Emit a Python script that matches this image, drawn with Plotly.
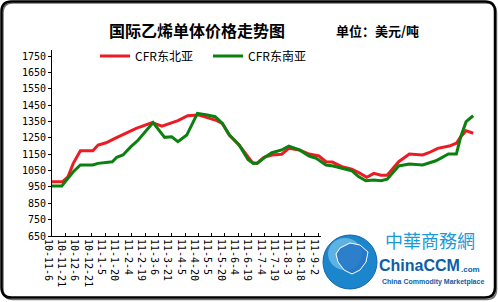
import plotly.graph_objects as go
import pandas as pd

# ---------------- data ----------------
ne_name = "CFR东北亚"
ne_dates = ["2010-11-06", "2010-11-18", "2010-11-24", "2010-11-30", "2010-12-08", "2010-12-22",
            "2010-12-28", "2011-01-06", "2011-01-16", "2011-01-27", "2011-02-09", "2011-02-27",
            "2011-03-10", "2011-03-28", "2011-04-08", "2011-04-20", "2011-04-30", "2011-05-11",
            "2011-05-17", "2011-05-25", "2011-06-05", "2011-06-20", "2011-06-25", "2011-07-03",
            "2011-07-12", "2011-07-23", "2011-07-31", "2011-08-12", "2011-08-23", "2011-09-03",
            "2011-09-11", "2011-09-18", "2011-09-29", "2011-10-10", "2011-10-18", "2011-10-27",
            "2011-11-04", "2011-11-12", "2011-11-19", "2011-11-27", "2011-12-02", "2011-12-14",
            "2011-12-29", "2012-01-05", "2012-01-15", "2012-01-28", "2012-02-05", "2012-02-10",
            "2012-02-16", "2012-02-24"]
ne_prices = [982, 982, 1012, 1094, 1171, 1171,
             1206, 1220, 1247, 1273, 1308, 1343,
             1322, 1355, 1385, 1390, 1375, 1355,
             1339, 1267, 1206, 1098, 1094, 1131,
             1145, 1150, 1186, 1176, 1151, 1139,
             1104, 1102, 1074, 1058, 1037, 1009,
             1033, 1021, 1021, 1074, 1104, 1151,
             1145, 1159, 1186, 1200, 1217, 1257,
             1294, 1278]

se_name = "CFR东南亚"
se_dates = ["2010-11-06", "2010-11-17", "2010-11-24", "2010-11-30", "2010-12-08", "2010-12-22",
            "2010-12-28", "2011-01-13", "2011-01-18", "2011-01-25", "2011-02-03", "2011-02-11",
            "2011-02-28", "2011-03-13", "2011-03-21", "2011-03-28", "2011-04-07", "2011-04-19",
            "2011-04-30", "2011-05-09", "2011-05-17", "2011-05-25", "2011-06-05", "2011-06-15",
            "2011-06-21", "2011-06-26", "2011-07-04", "2011-07-12", "2011-07-23", "2011-07-31",
            "2011-08-12", "2011-08-23", "2011-08-31", "2011-09-11", "2011-09-19", "2011-09-29",
            "2011-10-10", "2011-10-18", "2011-10-26", "2011-11-04", "2011-11-12", "2011-11-19",
            "2011-11-27", "2011-12-02", "2011-12-14", "2011-12-29", "2012-01-13", "2012-01-27",
            "2012-02-05", "2012-02-10", "2012-02-16", "2012-02-24"]
se_prices = [955, 955, 1003, 1043, 1084, 1084,
             1094, 1104, 1131, 1145, 1196, 1235,
             1343, 1253, 1257, 1227, 1267, 1400,
             1390, 1379, 1339, 1267, 1206, 1118,
             1094, 1096, 1131, 1159, 1176, 1200,
             1176, 1139, 1125, 1084, 1078, 1063,
             1049, 1012, 988, 992, 988, 997,
             1043, 1078, 1090, 1084, 1110, 1151,
             1151, 1257, 1349, 1385]

x_tick_labels = ["10-11-6", "10-11-21", "10-12-6", "10-12-21", "11-1-5", "11-1-20", "11-2-4",
                 "11-2-19", "11-3-6", "11-3-21", "11-4-5", "11-4-20", "11-5-5", "11-5-20",
                 "11-6-4", "11-6-19", "11-7-4", "11-7-19", "11-8-3", "11-8-18", "11-9-2",
                 "11-9-17", "11-10-2", "11-10-17", "11-11-1", "11-11-16", "11-12-1",
                 "11-12-16", "11-12-31", "12-1-15", "12-1-30", "12-2-14", "12-2-29"]
y_tick_values = [650, 750, 850, 950, 1050, 1150, 1250, 1350, 1450, 1550, 1650, 1750]

title_text = "国际乙烯单体价格走势图"
unit_text = "单位：美元/吨"

# ---------------- layout geometry (pixels) ----------------
FIG_W, FIG_H = 498, 302
L, T, R, B = 52, 50, 20, 66
W, H = FIG_W - L - R, FIG_H - T - B


def px(x):
    return (x - L) / W


def py(y):
    return (T + H - y) / H


x_tick_vals = [pd.to_datetime("20" + s, format="%Y-%m-%d") for s in x_tick_labels]

CJK = "Noto Sans CJK SC, Noto Sans, sans-serif"
TICKF = "DejaVu Sans Mono, monospace"

fig = go.Figure()
fig.add_trace(go.Scatter(x=pd.to_datetime(ne_dates), y=ne_prices, mode="lines", name=ne_name,
                         line=dict(color="#ec1c24", width=3)))
fig.add_trace(go.Scatter(x=pd.to_datetime(se_dates), y=se_prices, mode="lines", name=se_name,
                         line=dict(color="#0a800f", width=3)))

fig.update_layout(
    width=FIG_W, height=FIG_H,
    margin=dict(l=L, r=R, t=T, b=B, pad=0),
    paper_bgcolor="white", plot_bgcolor="white",
    showlegend=True,
    legend=dict(orientation="h", x=px(95), xanchor="left", y=py(56), yanchor="middle",
                font=dict(family=CJK, size=12, color="black"),
                bgcolor="rgba(0,0,0,0)", borderwidth=0,
                entrywidth=68, entrywidthmode="pixels", itemwidth=30),
    xaxis=dict(type="date", range=["2010-11-06", "2012-02-29 10:00"],
               tickmode="array", tickvals=x_tick_vals, ticktext=x_tick_labels,
               tickangle=90, ticks="inside", ticklen=3, tickcolor="black",
               showline=True, linecolor="black", linewidth=1,
               showgrid=False, zeroline=False,
               tickfont=dict(family=TICKF, size=10, color="black"),
               ticklabelshift=-4),
    yaxis=dict(range=[650, 1787], tickmode="array", tickvals=y_tick_values,
               ticks="outside", ticklen=3, tickcolor="black",
               showline=True, linecolor="black", linewidth=1,
               showgrid=False, zeroline=False,
               tickfont=dict(family=TICKF, size=10, color="black")),
)

# title and unit
fig.add_annotation(text="<b>" + title_text + "</b>", x=px(197), y=py(30), xref="paper", yref="paper",
                   showarrow=False, xanchor="center", yanchor="middle",
                   font=dict(family=CJK, size=16, color="black"))
fig.add_annotation(text="<b>" + unit_text + "</b>", x=px(377), y=py(30), xref="paper", yref="paper",
                   showarrow=False, xanchor="center", yanchor="middle",
                   font=dict(family=CJK, size=13, color="black"))


# outer rounded frame
def rrect(x0, y0, x1, y1, r):
    pts = [
        ("M", [(x0 + r, y0)]), ("L", [(x1 - r, y0)]), ("Q", [(x1, y0), (x1, y0 + r)]),
        ("L", [(x1, y1 - r)]), ("Q", [(x1, y1), (x1 - r, y1)]),
        ("L", [(x0 + r, y1)]), ("Q", [(x0, y1), (x0, y1 - r)]),
        ("L", [(x0, y0 + r)]), ("Q", [(x0, y0), (x0 + r, y0)]),
    ]
    s = ""
    for cmd, ps in pts:
        s += cmd + " " + " ".join(f"{px(a):.5f},{py(b):.5f}" for a, b in ps) + " "
    return s + "Z"


fig.add_shape(type="path", path=rrect(1.5, 1.5, 495, 297.5, 10), xref="paper", yref="paper",
              line=dict(color="black", width=2.5), fillcolor="rgba(0,0,0,0)", layer="above")
fig.add_shape(type="path", path=rrect(3, 3, 496.5, 299.5, 10), xref="paper", yref="paper",
              line=dict(color="rgba(0,0,0,0.55)", width=1.5), fillcolor="rgba(0,0,0,0)", layer="below")

# logo block (covers the later date labels as in the source)
fig.add_shape(type="rect", x0=px(321), x1=px(492), y0=py(293), y1=py(226), xref="paper", yref="paper",
              line=dict(width=0), fillcolor="white", layer="above")
fig.add_shape(type="circle", x0=px(323), x1=px(377), y0=py(289), y1=py(235), xref="paper", yref="paper",
              line=dict(color="#1565a8", width=1), fillcolor="#1c86cc", layer="above")
fig.add_shape(type="circle", x0=px(328), x1=px(362), y0=py(270), y1=py(238), xref="paper", yref="paper",
              line=dict(width=0), fillcolor="rgba(150,215,245,0.55)", layer="above")
fig.add_shape(type="path", xref="paper", yref="paper", layer="above",
              path=" ".join([("M" if i == 0 else "L") + f" {px(a):.5f},{py(b):.5f}" for i, (a, b) in enumerate(
                  [(340, 248), (350, 243), (360, 245), (368, 252), (366, 262), (360, 270), (352, 274),
                   (344, 270), (338, 262), (336, 254)])]) + " Z",
              line=dict(color="white", width=1), fillcolor="rgba(40,120,200,0.9)")

fig.add_annotation(text="中華商務網", x=px(430), y=py(240), xref="paper", yref="paper",
                   showarrow=False, xanchor="center", yanchor="middle",
                   font=dict(family="Noto Sans CJK TC, Noto Sans CJK SC", size=18, color="#1b9ad8"))
fig.add_annotation(text="<b>ChinaCCM</b>", x=px(377), y=py(265), xref="paper", yref="paper",
                   showarrow=False, xanchor="left", yanchor="middle",
                   font=dict(family="Liberation Sans, sans-serif", size=16, color="#0d5ea8"))
fig.add_annotation(text="<b>.com</b>", x=px(459), y=py(269), xref="paper", yref="paper",
                   showarrow=False, xanchor="left", yanchor="middle",
                   font=dict(family="Liberation Sans, sans-serif", size=8, color="#0d5ea8"))
fig.add_annotation(text="<b>China Commodity Marketplace</b>", x=px(433), y=py(282), xref="paper", yref="paper",
                   showarrow=False, xanchor="center", yanchor="middle",
                   font=dict(family="Liberation Sans Narrow, Liberation Sans, sans-serif", size=7, color="#0d5ea8"))

fig.write_html("out.html")
